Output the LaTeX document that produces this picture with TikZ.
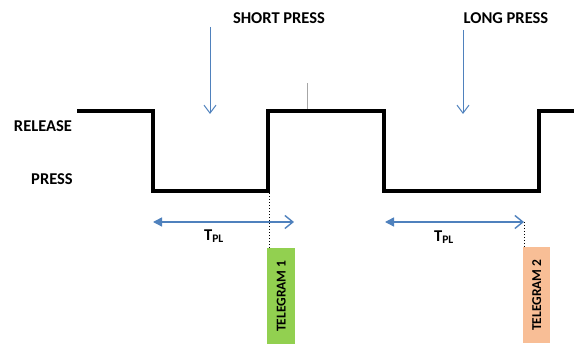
\documentclass[tikz,border=0pt]{standalone}
\usepackage{fontspec}
\setmainfont{Carlito}
\usetikzlibrary{arrows.meta}
\definecolor{arrblue}{RGB}{79,129,189}
\definecolor{tgreen}{RGB}{146,208,80}
\definecolor{torange}{RGB}{248,190,150}
\tikzset{
  lbl/.style={font=\bfseries\fontsize{16.5}{19}\selectfont, inner sep=0pt},
  presarrow/.style={draw=arrblue, line width=1pt, -{Straight Barb[length=8pt,width=12pt]}},
  tplarrow/.style={draw=arrblue, line width=1.4pt, {Triangle[length=9pt,width=9pt]}-{Straight Barb[length=8pt,width=13pt]}},
  wave/.style={line width=4.5pt, line join=miter},
  tgbox/.style={minimum width=28pt, minimum height=96pt, inner sep=0pt, anchor=north west},
  tgtext/.style={font=\bfseries\fontsize{13.5}{15}\selectfont, rotate=90, inner sep=0pt},
  dotline/.style={line width=1pt, dotted}
}
\begin{document}
\begin{tikzpicture}[x=1pt,y=-1pt]
\useasboundingbox (0,0) rectangle (574,344);
% labels
\node[lbl] (rel) at (43,126) {RELEASE};
\node[lbl] (prs) at (52,179) {PRESS};
\node[lbl] (sp) at (279,18) {SHORT PRESS};
\node[lbl] (lp) at (506,18) {LONG PRESS};
% waveform
\coordinate (w0) at (77,111);
\coordinate (w1) at (153,111);
\coordinate (w2) at (153,191);
\coordinate (w3) at (268,191);
\coordinate (w4) at (268,111);
\coordinate (w5) at (384,111);
\coordinate (w6) at (384,191);
\coordinate (w7) at (539,191);
\coordinate (w8) at (539,111);
\coordinate (w9) at (576,111);
\draw[wave] (w0) -- (w1) -- (w2) -- (w3) -- (w4) -- (w5) -- (w6) -- (w7) -- (w8) -- (w9);
% small tick
\coordinate (tk1) at (307,83);
\coordinate (tk2) at (307,109);
\draw[gray!70, line width=0.6pt] (tk1) -- (tk2);
% press arrows
\coordinate (sa1) at (210,27);
\coordinate (sa2) at (210,114);
\coordinate (la1) at (463,30);
\coordinate (la2) at (463,114);
\draw[presarrow] (sa1) -- (sa2);
\draw[presarrow] (la1) -- (la2);
% telegram boxes
\node[tgbox, fill=tgreen] (tg1) at (267,248) {};
\node[tgtext] at (tg1.center) {TELEGRAM 1};
\node[tgbox, fill=torange, minimum width=27pt] (tg2) at (523,247) {};
\node[tgtext] at (tg2.center) {TELEGRAM 2};
% T_PL arrows
\coordinate (a1l) at (153,222);
\coordinate (a1r) at (294,222);
\coordinate (a2l) at (385,222);
\coordinate (a2r) at (524,222);
\draw[tplarrow] (a1l) -- (a1r);
\draw[tplarrow] (a2l) -- (a2r);
\node[lbl] (t1) at (214,236) {T\textsubscript{PL}};
\node[lbl] (t2) at (444,237) {T\textsubscript{PL}};
% dotted
\coordinate (d1) at (269,193);
\draw[dotline] (d1) -- (tg1.north west -| d1);
\coordinate (d2) at (524,222);
\draw[dotline] (d2) -- (tg2.north west -| d2);
\end{tikzpicture}
\end{document}
